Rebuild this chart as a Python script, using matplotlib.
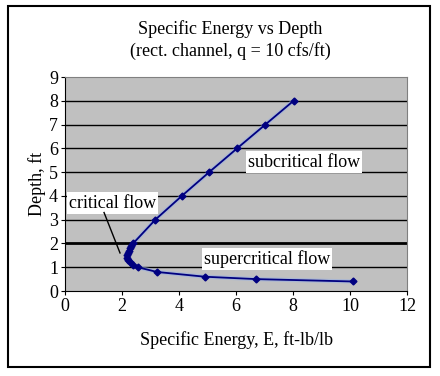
import numpy as np
import matplotlib
matplotlib.use('Agg')
import matplotlib.pyplot as plt
from matplotlib.patches import Rectangle

# Valores (E em ft-lb/lb, profundidade em ft)
energia = [8.02, 7.03, 6.04, 5.06, 4.10, 3.17, 2.39, 2.33, 2.28, 2.24, 2.21, 2.19,
           2.19, 2.22, 2.28, 2.38, 2.55, 3.23, 4.91, 6.71, 10.11]
profundidade = [8.0, 7.0, 6.0, 5.0, 4.0, 3.0, 2.0, 1.9, 1.8, 1.7, 1.6, 1.5,
                1.4, 1.3, 1.2, 1.1, 1.0, 0.8, 0.6, 0.5, 0.4]

plt.rcParams['font.family'] = ['Liberation Serif', 'DejaVu Serif']
fs = 13

fig = plt.figure(figsize=(4.4, 3.76), dpi=100)
ax = fig.add_axes([65 / 440, 1 - 291 / 376, (407 - 65) / 440, (291 - 77) / 376])

# Moldura externa da figura
fig.patches.append(Rectangle((8 / 440, 1 - 367 / 376), 422 / 440, 361 / 376,
                             transform=fig.transFigure, fill=False,
                             edgecolor='black', lw=1.5))

ax.set_facecolor('#c0c0c0')
for y in range(1, 9):
    ax.axhline(y, color='black', lw=2.0 if y == 2 else 1.0, zorder=1)

ax.plot(energia, profundidade, color='#9ab0e0', lw=3, zorder=2, alpha=0.6)
ax.plot(energia, profundidade, color='#000080', lw=1.3, marker='D', ms=3.5, zorder=3)

ax.set_xlim(0, 12)
ax.set_ylim(0, 9)
ax.set_xticks(range(0, 13, 2))
ax.set_yticks(range(0, 10))
ax.tick_params(labelsize=fs, length=3, direction='out', pad=2)
ax.spines['top'].set_color('#808080')
ax.spines['right'].set_color('#808080')

box = dict(facecolor='white', edgecolor='none', pad=1.5)
ax.text(8.39, 5.42, 'subcritical flow', fontsize=fs, ha='center', va='center', bbox=box, zorder=4)
ax.text(7.09, 1.34, 'supercritical flow', fontsize=fs, ha='center', va='center', bbox=box, zorder=4)
ax.text(1.66, 3.7, 'critical flow', fontsize=fs, ha='center', va='center', bbox=box, zorder=4)
ax.plot([1.37, 1.93], [3.3, 1.6], color='black', lw=1, zorder=4)

ax.set_xlabel('Specific Energy, E, ft-lb/lb', fontsize=fs, labelpad=12)
ax.set_ylabel('Depth, ft', fontsize=fs, labelpad=2)
fig.text(0.523, 1 - 29 / 376, 'Specific Energy vs Depth', fontsize=fs, ha='center', va='center')
fig.text(0.523, 1 - 51 / 376, '(rect. channel, q = 10 cfs/ft)', fontsize=fs, ha='center', va='center')

fig.savefig('out.png', dpi=100)
